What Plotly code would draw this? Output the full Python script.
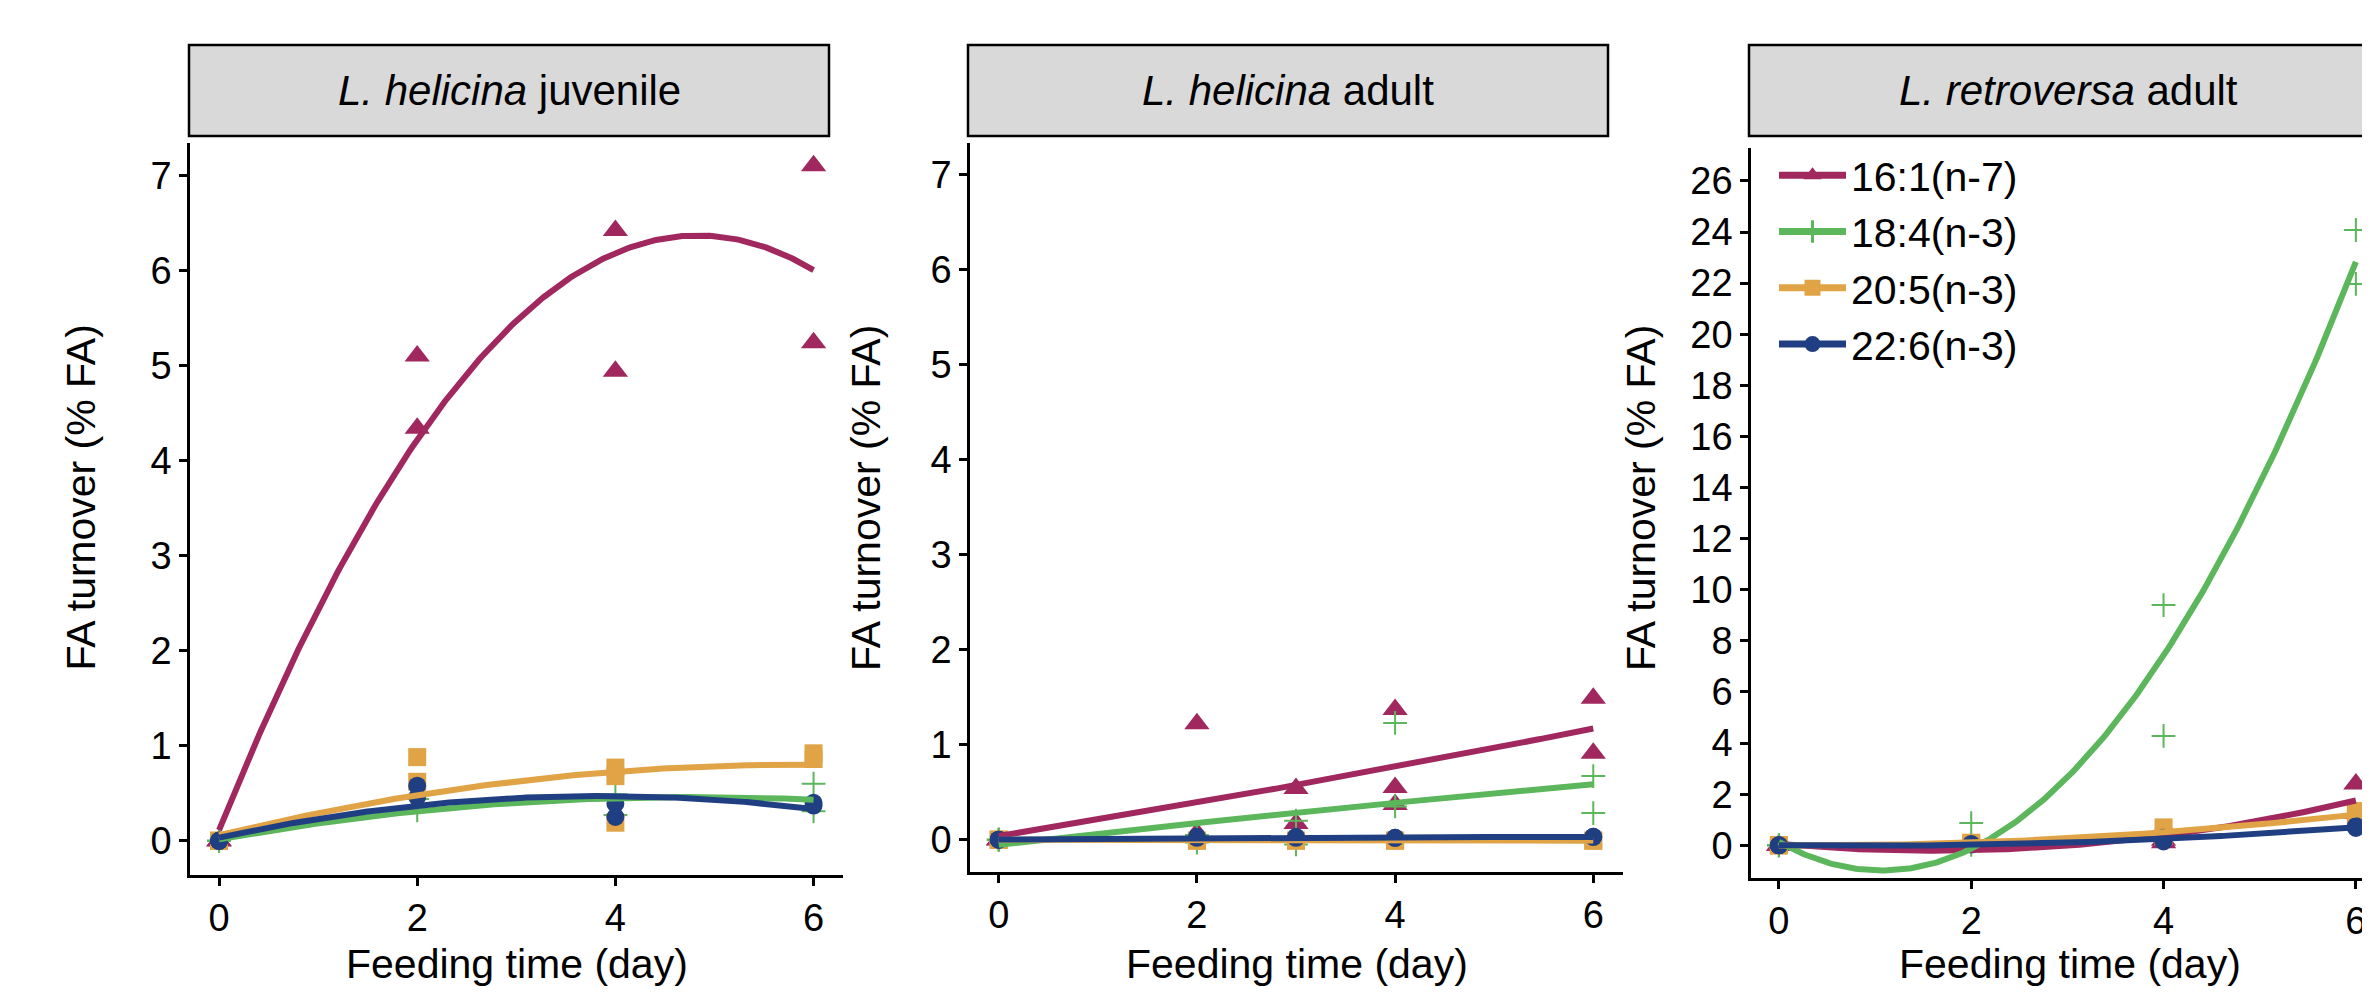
import numpy as np
import plotly.graph_objects as go

W, H = 2370, 997

# ---------------- data ----------------
series = ["16:1(n-7)", "18:4(n-3)", "20:5(n-3)", "22:6(n-3)"]
colors = ["#A0285E", "#5CB65C", "#E0A346", "#203F82"]
symbols = ["triangle-up", "cross-thin", "square", "circle"]
msizes = [22, 17, 18, 18]

panel_titles = ["<i>L. helicina</i> juvenile", "<i>L. helicina</i> adult", "<i>L. retroversa</i> adult"]

# Panel 1: L. helicina juvenile
juv_x_161 = [0, 0, 0, 2, 2, 4, 4, 6, 6]
juv_y_161 = [0, 0, 0, 5.10, 4.34, 6.42, 4.94, 7.10, 5.24]
juv_x_184 = [0, 0, 0, 2, 2, 4, 4, 6, 6]
juv_y_184 = [0, 0, 0, 0.32, 0.44, 0.49, 0.27, 0.60, 0.31]
juv_x_205 = [0, 0, 0, 2, 2, 4, 4, 4, 6, 6]
juv_y_205 = [0, 0, 0, 0.88, 0.62, 0.77, 0.68, 0.19, 0.92, 0.86]
juv_x_226 = [0, 0, 0, 2, 2, 4, 4, 6, 6]
juv_y_226 = [0, 0, 0, 0.58, 0.46, 0.39, 0.25, 0.40, 0.37]

# Panel 2: L. helicina adult
adu_x_161 = [0, 0, 0, 2, 2, 3, 3, 4, 4, 4, 6, 6]
adu_y_161 = [0, 0, 0, 1.22, 0.07, 0.54, 0.17, 1.37, 0.55, 0.37, 1.49, 0.91]
adu_x_184 = [0, 0, 0, 2, 2, 3, 3, 4, 4, 6, 6]
adu_y_184 = [0, 0, 0, -0.03, 0.05, -0.05, 0.20, 1.23, 0.35, 0.67, 0.28]
adu_x_205 = [0, 0, 0, 2, 2, 3, 3, 4, 4, 6, 6]
adu_y_205 = [0, 0, 0, -0.01, -0.01, -0.01, -0.01, -0.01, -0.01, -0.01, -0.01]
adu_x_226 = [0, 0, 0, 2, 2, 3, 3, 4, 4, 6, 6]
adu_y_226 = [0, 0, 0, 0.03, 0.02, 0.03, 0.02, 0.02, 0.02, 0.03, 0.03]

# Panel 3: L. retroversa adult
ret_x_161 = [0, 0, 0, 2, 2, 4, 4, 6, 6]
ret_y_161 = [0, 0, 0, 0.00, 0.05, 0.10, 0.20, 2.40, 1.25]
ret_x_184 = [0, 0, 0, 2, 2, 4, 4, 6, 6]
ret_y_184 = [0, 0, 0, 0.87, 0.02, 9.40, 4.28, 24.08, 21.97]
ret_x_205 = [0, 0, 0, 2, 2, 4, 4, 6, 6]
ret_y_205 = [0, 0, 0, 0.10, 0.08, 0.70, 0.35, 1.34, 1.05]
ret_x_226 = [0, 0, 0, 2, 2, 4, 4, 6, 6]
ret_y_226 = [0, 0, 0, 0.05, 0.03, 0.30, 0.15, 0.75, 0.68]

panels = [
    [(juv_x_161, juv_y_161), (juv_x_184, juv_y_184), (juv_x_205, juv_y_205), (juv_x_226, juv_y_226)],
    [(adu_x_161, adu_y_161), (adu_x_184, adu_y_184), (adu_x_205, adu_y_205), (adu_x_226, adu_y_226)],
    [(ret_x_161, ret_y_161), (ret_x_184, ret_y_184), (ret_x_205, ret_y_205), (ret_x_226, ret_y_226)],
]

x_ticks = [0, 2, 4, 6]
y_ticks_helicina = [0, 1, 2, 3, 4, 5, 6, 7]
y_ticks_retroversa = list(range(0, 27, 2))

# ---------------- helpers ----------------
def px(v):
    return v / W

def py(v):
    return 1 - v / H

FONT = "Liberation Sans, Arial, Helvetica, sans-serif"

fig = go.Figure()

for p, pdata in enumerate(panels):
    xa = "x" if p == 0 else f"x{p+1}"
    ya = "y" if p == 0 else f"y{p+1}"
    # points
    for s, (xs, ys) in enumerate(pdata):
        if symbols[s] == "cross-thin":
            marker = dict(symbol="cross-thin", size=msizes[s], line=dict(color=colors[s], width=2))
        else:
            marker = dict(symbol=symbols[s], size=msizes[s], color=colors[s], line=dict(width=0))
        fig.add_trace(go.Scatter(x=xs, y=ys, mode="markers", marker=marker,
                                 xaxis=xa, yaxis=ya, showlegend=False, cliponaxis=False))
    # quadratic lm fits (like geom_smooth(method="lm", formula=y~poly(x,2)))
    for s, (xs, ys) in enumerate(pdata):
        coef = np.polyfit(np.array(xs, float), np.array(ys, float), 2)
        xx = np.linspace(0, 6, 241)
        fig.add_trace(go.Scatter(x=xx, y=np.polyval(coef, xx), mode="lines",
                                 line=dict(color=colors[s], width=6),
                                 xaxis=xa, yaxis=ya, showlegend=False, hoverinfo="skip"))

# legend entries (line + symbol)
for s in range(4):
    if symbols[s] == "cross-thin":
        marker = dict(symbol="cross-thin", size=msizes[s] + 4, line=dict(color=colors[s], width=3))
    else:
        marker = dict(symbol=symbols[s], size=msizes[s] + 2, color=colors[s])
    fig.add_trace(go.Scatter(x=[None], y=[None], mode="lines+markers", name=series[s],
                             line=dict(color=colors[s], width=7), marker=marker,
                             xaxis="x3", yaxis="y3", showlegend=True))

axis_common = dict(showline=True, linecolor="black", linewidth=2.5, ticks="outside",
                   ticklen=8, tickwidth=2.5, tickcolor="black", showgrid=False, zeroline=False,
                   tickfont=dict(family=FONT, size=38, color="black"), mirror=False)

x_domains = [[px(182), px(835)], [px(962), px(1615)], [px(1743), 1.0]]
x_ranges = [[-0.293, 6.297], [-0.29, 6.30], [-0.29, 6.23]]
y_domains = [[py(867), py(135)], [py(864), py(135)], [py(870), py(140)]]
y_ranges = [[-0.36, 7.34], [-0.34, 7.335], [-1.28, 27.29]]
y_tickvals = [y_ticks_helicina, y_ticks_helicina, y_ticks_retroversa]

layout = dict(width=W, height=H, margin=dict(l=0, r=0, t=0, b=0),
              plot_bgcolor="white", paper_bgcolor="white",
              font=dict(family=FONT, color="black"))
for p in range(3):
    xk = "xaxis" if p == 0 else f"xaxis{p+1}"
    yk = "yaxis" if p == 0 else f"yaxis{p+1}"
    ya = "y" if p == 0 else f"y{p+1}"
    xa = "x" if p == 0 else f"x{p+1}"
    layout[xk] = dict(domain=x_domains[p], range=x_ranges[p], tickvals=x_ticks, anchor=ya, **axis_common)
    layout[yk] = dict(domain=y_domains[p], range=y_ranges[p], tickvals=y_tickvals[p], anchor=xa, **axis_common)

fig.update_layout(**layout)

# strips
strip_x = [(181, 821), (960, 1600), (1741, 2374)]
strip_text_x = [501, 1280, 2060]
shapes = []
annotations = []
for p in range(3):
    x0, x1 = strip_x[p]
    shapes.append(dict(type="rect", xref="paper", yref="paper", x0=px(x0), x1=px(x1),
                       y0=py(128), y1=py(37), fillcolor="#D9D9D9",
                       line=dict(color="black", width=2.5), layer="above"))
    annotations.append(dict(text=panel_titles[p], xref="paper", yref="paper",
                            x=px(strip_text_x[p]), y=py(82.5),
                            xanchor="center", yanchor="middle", showarrow=False,
                            font=dict(family=FONT, size=42, color="black")))

ytitle_x = [72.5, 858, 1633]
xtitle_x = [508.5, 1288.5, 2062]
for p in range(3):
    annotations.append(dict(text="FA turnover (% FA)", xref="paper", yref="paper",
                            x=px(ytitle_x[p]), y=py(490), textangle=-90,
                            xanchor="center", yanchor="middle", showarrow=False,
                            font=dict(family=FONT, size=41, color="black")))
    annotations.append(dict(text="Feeding time (day)", xref="paper", yref="paper",
                            x=px(xtitle_x[p]), y=py(956),
                            xanchor="center", yanchor="middle", showarrow=False,
                            font=dict(family=FONT, size=41, color="black")))

fig.update_layout(shapes=shapes, annotations=annotations,
                  legend=dict(x=px(1766), y=py(134), xanchor="left", yanchor="top",
                              bgcolor="rgba(0,0,0,0)", itemwidth=67,
                              font=dict(family=FONT, size=41, color="black")))

fig.write_html("out.html")
